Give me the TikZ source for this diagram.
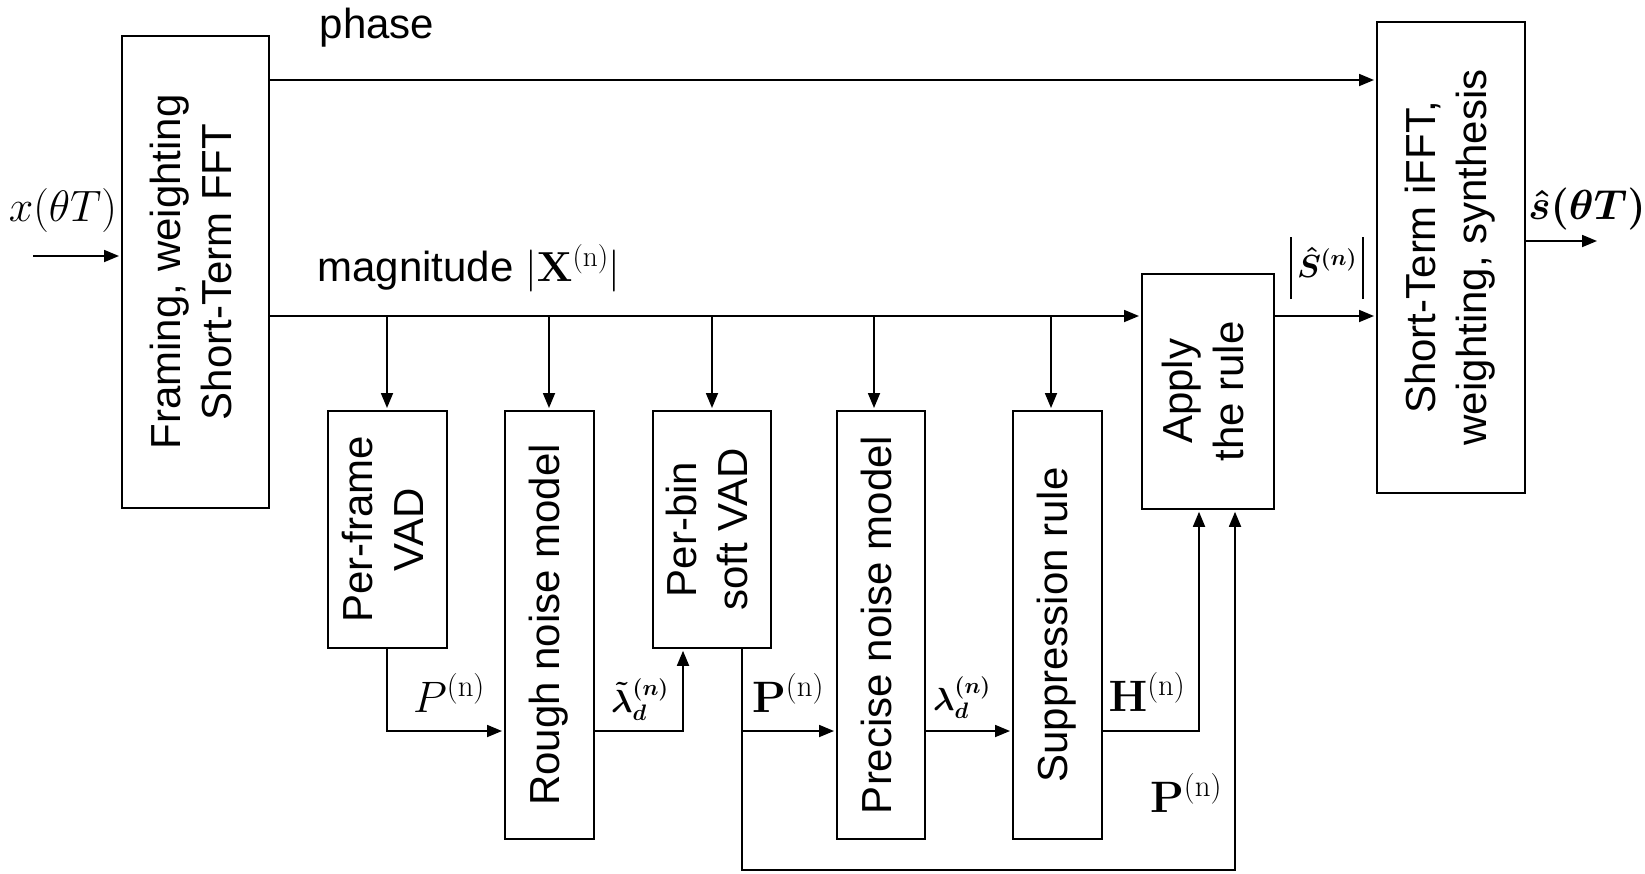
\RequirePackage{fix-cm}
\documentclass[tikz,border=0pt]{standalone}
\usepackage{amsmath,bm}
\usepackage[no-math]{fontspec}
\setmainfont{Liberation Sans}
\usetikzlibrary{arrows.meta}
\newcommand{\rottext}[1]{\rotatebox{90}{\begin{tabular}{@{}c@{}}#1\end{tabular}}}
\begin{document}
\begin{tikzpicture}[x=1pt,y=-1pt,
  box/.style={draw, line width=1.8pt, inner sep=0pt, anchor=north west, font=\fontsize{42}{51}\selectfont},
  arr/.style={line width=1.8pt, -{Triangle[length=15pt,width=12pt]}, shorten >=2pt},
  ln/.style={line width=1.8pt},
  slab/.style={font=\fontsize{42}{50}\selectfont, inner sep=0pt},
  mlab/.style={font=\fontsize{44}{50}\selectfont, inner sep=0pt},
  llab/.style={font=\fontsize{32}{36}\selectfont, inner sep=0pt},
]
\fill[white] (0,0) rectangle (1645,873);
\useasboundingbox (0,0) rectangle (1645,873);

% blocks
\node[box, minimum width=147pt, minimum height=472pt] (fr) at (121,35) {\rottext{Framing, weighting\\Short-Term FFT}};
\node[box, minimum width=148pt, minimum height=471pt] (fi) at (1376,21) {\rottext{Short-Term iFFT,\\weighting, synthesis}};
\node[box, minimum width=132pt, minimum height=235pt] (ap) at (1141,273) {\rottext{Apply\\the rule}};
\node[box, minimum width=119pt, minimum height=237pt] (pf) at (327,410) {\rottext{Per-frame\\VAD}};
\node[box, minimum width=89pt, minimum height=428pt] (rn) at (504,410) {\rottext{Rough noise model}};
\node[box, minimum width=118pt, minimum height=237pt] (pb) at (652,410) {\rottext{Per-bin\\soft VAD}};
\node[box, minimum width=88pt, minimum height=428pt] (pn) at (836,410) {\rottext{Precise noise model}};
\node[box, minimum width=89pt, minimum height=428pt] (sr) at (1012,410) {\rottext{Suppression rule}};

% coordinates
\coordinate (in) at (33,256);
\coordinate (out) at (1599,241);
\coordinate (ph) at (0,80);
\coordinate (mg) at (0,316);
\coordinate (d1) at (387,316);
\coordinate (d2) at (549,316);
\coordinate (d3) at (712,316);
\coordinate (d4) at (874,316);
\coordinate (d5) at (1051,316);
\coordinate (lo) at (0,731);
\coordinate (bt) at (0,870);
\coordinate (c1) at (683,0);
\coordinate (c2) at (742,0);
\coordinate (c3) at (1199,0);
\coordinate (c4) at (1235,0);

% main connectors
\draw[arr] (in) -- (in -| fr.west);
\draw[arr] (fi.east |- out) -- (out);
\draw[arr] (fr.east |- ph) -- (fi.west |- ph);
\draw[arr] (fr.east |- mg) -- (ap.west |- mg);
\draw[arr] (ap.east |- mg) -- (fi.west |- mg);
\foreach \d/\b in {d1/pf,d2/rn,d3/pb,d4/pn,d5/sr}
  \draw[arr] (\d) -- (\d |- \b.north);

% lower chain
\draw[arr] (d1 |- pf.south) |- (rn.west |- lo);
\draw[arr] (rn.east |- lo) -| (c1 |- pb.south);
\draw[arr] (c2 |- pb.south) |- (pn.west |- lo);
\draw[arr] (pn.east |- lo) -- (sr.west |- lo);
\draw[arr] (sr.east |- lo) -| (c3 |- ap.south);
\draw[arr] (c2 |- lo) |- (c4 |- bt) -- (c4 |- ap.south);

% labels
\node[slab] (lph) at (377,28) {phase};
\node[slab] (lmg) at (469,268) {magnitude $|\mathbf{X}^{(\mathrm{n})}|$};
\node[mlab] (lx) at (63,210) {$x(\theta T)$};
\node[font=\fontsize{42}{48}\selectfont, inner sep=0pt] (ls) at (1587,209) {$\bm{\hat{s}(\theta T)}$};
\node[llab] (lS) at (1327,268) {\rule[-22pt]{1.5pt}{62pt}\,$\bm{\hat{S}^{(n)}}$\,\rule[-22pt]{1.5pt}{62pt}};
\node[mlab] (lp1) at (449,693) {$P^{(\mathrm{n})}$};
\node[llab] (ll1) at (640,700) {$\bm{\tilde{\lambda}_d^{(n)}}$};
\node[mlab] (lp2) at (788,693) {$\mathbf{P}^{(\mathrm{n})}$};
\node[llab] (ll2) at (962,698) {$\bm{\lambda_d^{(n)}}$};
\node[mlab] (lh) at (1147,692) {$\mathbf{H}^{(\mathrm{n})}$};
\node[mlab] (lp3) at (1186,793) {$\mathbf{P}^{(\mathrm{n})}$};
\end{tikzpicture}
\end{document}
